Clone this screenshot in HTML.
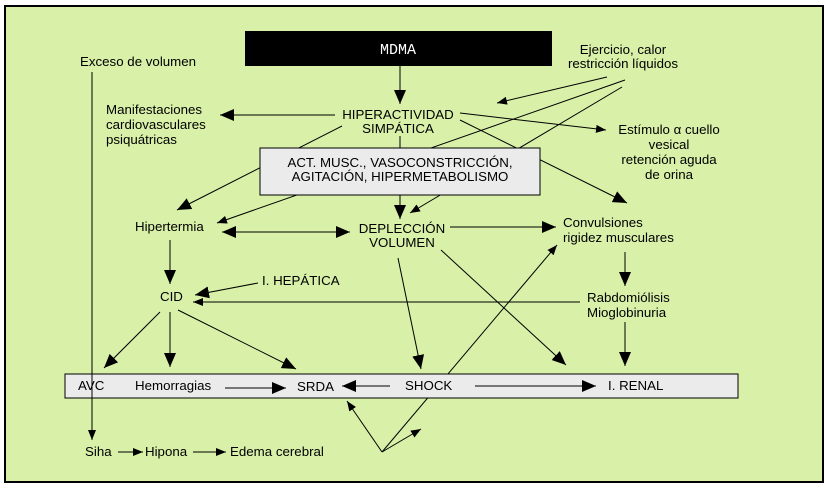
<!DOCTYPE html>
<html><head><meta charset="utf-8"><style>
html,body{margin:0;padding:0;background:#fff;}
svg{display:block;}
text{font-family:"Liberation Sans",Arial,sans-serif;font-size:13.3px;fill:#000;}
</style></head><body>
<svg width="827" height="488" viewBox="0 0 827 488" xmlns="http://www.w3.org/2000/svg">
<defs>
<marker id="a" viewBox="0 0 14 12" refX="14" refY="6" markerWidth="14" markerHeight="12" markerUnits="userSpaceOnUse" orient="auto"><path d="M0,0 L14,6 L0,12 Z" fill="#000"/></marker>
<marker id="s" viewBox="0 0 10 8" refX="10" refY="4" markerWidth="10" markerHeight="8" markerUnits="userSpaceOnUse" orient="auto"><path d="M0,0 L10,4 L0,8 Z" fill="#000"/></marker>
<marker id="b" viewBox="0 0 14 12" refX="0" refY="6" markerWidth="14" markerHeight="12" markerUnits="userSpaceOnUse" orient="auto"><path d="M14,0 L0,6 L14,12 Z" fill="#000"/></marker>
</defs>
<rect x="5" y="6" width="818" height="476" fill="#d8f0a8" stroke="#000" stroke-width="2"/>
<g stroke="#000" stroke-width="1" fill="none">
<line x1="625" y1="80" x2="217" y2="223" marker-end="url(#s)"/>
<line x1="622" y1="87" x2="410" y2="213" marker-end="url(#s)"/>
<line x1="607" y1="77" x2="497" y2="103" marker-end="url(#s)"/>
<line x1="460" y1="120" x2="627" y2="203" marker-end="url(#a)"/>
<line x1="342" y1="126" x2="177" y2="210" marker-end="url(#a)"/>
<line x1="460" y1="113" x2="606" y2="130" marker-end="url(#s)"/>
<line x1="382" y1="452" x2="557" y2="245" marker-end="url(#s)"/>
</g>
<rect x="245" y="31" width="307" height="35" fill="#000"/>
<text x="398" y="54" text-anchor="middle" style="font-family:'Liberation Mono',monospace;fill:#fff;font-size:15px">MDMA</text>
<rect x="260" y="148" width="280" height="47" fill="#ebebeb" stroke="#000"/>
<rect x="65" y="374" width="673" height="24" fill="#ebebeb" stroke="#000"/>
<g stroke="#000" stroke-width="1" fill="none">
<line x1="400" y1="66" x2="400" y2="104" marker-end="url(#a)"/>
<line x1="335" y1="115" x2="220" y2="115" marker-end="url(#a)"/>
<line x1="400" y1="136" x2="400" y2="148"/>
<line x1="400" y1="195" x2="400" y2="219" marker-end="url(#a)"/>
<line x1="92" y1="72" x2="92" y2="440" marker-end="url(#s)"/>
<line x1="222" y1="232" x2="350" y2="232" marker-start="url(#b)" marker-end="url(#a)"/>
<line x1="450" y1="227" x2="556" y2="227" marker-end="url(#a)"/>
<line x1="625" y1="252" x2="625" y2="286" marker-end="url(#a)"/>
<line x1="580" y1="302" x2="193" y2="302" marker-end="url(#s)"/>
<line x1="258" y1="283" x2="195" y2="295" marker-end="url(#a)"/>
<line x1="170" y1="240" x2="170" y2="284" marker-end="url(#a)"/>
<line x1="160" y1="312" x2="104" y2="368" marker-end="url(#a)"/>
<line x1="170" y1="312" x2="170" y2="367" marker-end="url(#a)"/>
<line x1="178" y1="310" x2="296" y2="369" marker-end="url(#a)"/>
<line x1="398" y1="258" x2="421" y2="369" marker-end="url(#a)"/>
<line x1="441" y1="250" x2="566" y2="365" marker-end="url(#a)"/>
<line x1="625" y1="322" x2="625" y2="366" marker-end="url(#a)"/>
<line x1="225" y1="388" x2="286" y2="388" marker-end="url(#a)"/>
<line x1="390" y1="386" x2="342" y2="386" marker-end="url(#a)"/>
<line x1="475" y1="386" x2="596" y2="386" marker-end="url(#a)"/>
<line x1="382" y1="452" x2="347" y2="401" marker-end="url(#s)"/>
<line x1="382" y1="452" x2="421" y2="429" marker-end="url(#s)"/>
<line x1="118" y1="452" x2="143" y2="452" marker-end="url(#s)"/>
<line x1="193" y1="452" x2="226" y2="452" marker-end="url(#s)"/>
</g>
<text x="80" y="66">Exceso de volumen</text>
<text x="106" y="114">Manifestaciones</text>
<text x="106" y="129">cardiovasculares</text>
<text x="106" y="144">psiquátricas</text>
<text x="398" y="119" text-anchor="middle">HIPERACTIVIDAD</text>
<text x="398" y="133" text-anchor="middle">SIMPÁTICA</text>
<text x="623" y="54" text-anchor="middle">Ejercicio, calor</text>
<text x="623" y="68" text-anchor="middle">restricción líquidos</text>
<text x="669" y="134" text-anchor="middle">Estímulo α cuello</text>
<text x="669" y="149" text-anchor="middle">vesical</text>
<text x="669" y="164" text-anchor="middle">retención aguda</text>
<text x="669" y="179" text-anchor="middle">de orina</text>
<text x="400" y="167" text-anchor="middle">ACT. MUSC., VASOCONSTRICCIÓN,</text>
<text x="400" y="181" text-anchor="middle">AGITACIÓN, HIPERMETABOLISMO</text>
<text x="135" y="231">Hipertermia</text>
<text x="402" y="233" text-anchor="middle">DEPLECCIÓN</text>
<text x="402" y="247" text-anchor="middle">VOLUMEN</text>
<text x="563" y="227">Convulsiones</text>
<text x="563" y="242">rigidez musculares</text>
<text x="262" y="285">I. HEPÁTICA</text>
<text x="160" y="301">CID</text>
<text x="587" y="302">Rabdomiólisis</text>
<text x="587" y="317">Mioglobinuria</text>
<text x="78" y="390">AVC</text>
<text x="135" y="390">Hemorragias</text>
<text x="297" y="391">SRDA</text>
<text x="405" y="390">SHOCK</text>
<text x="608" y="390">I. RENAL</text>
<text x="85" y="456">Siha</text>
<text x="145" y="456">Hipona</text>
<text x="230" y="456">Edema cerebral</text>
</svg>
</body></html>
